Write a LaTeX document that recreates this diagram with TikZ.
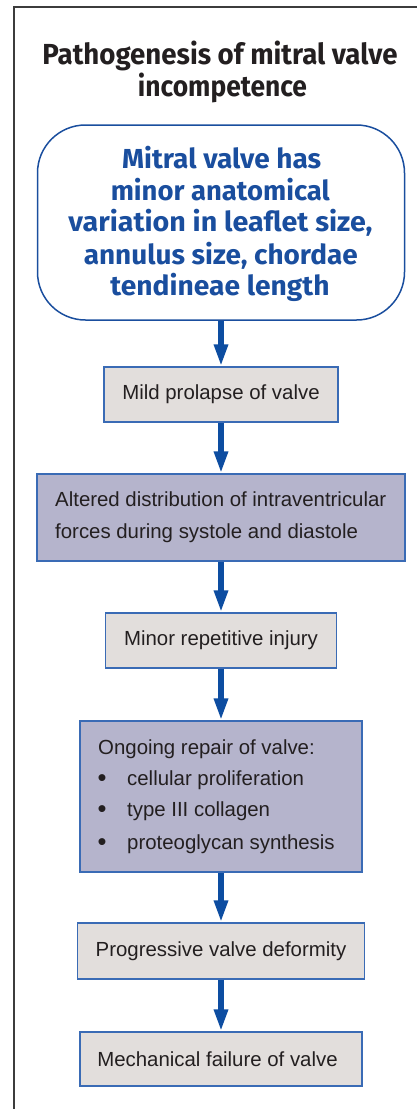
\documentclass[tikz,border=0pt]{standalone}
\usepackage{fontspec}
\usepackage{graphicx}
\setmainfont{Liberation Sans}
\newfontfamily\headfont{Fira Sans}
\usetikzlibrary{arrows.meta}
\definecolor{framegray}{HTML}{3C3C3C}
\definecolor{textdark}{HTML}{231F20}
\definecolor{navy}{HTML}{1A4E9E}
\definecolor{arrowblue}{HTML}{0D4DA1}
\definecolor{boxline}{HTML}{3A6BB5}
\definecolor{greyfill}{HTML}{E2DEDC}
\definecolor{lilac}{HTML}{B5B4CC}
\newcommand\fitw[2]{\resizebox{#1pt}{\height}{#2}}
\newcommand\bulletmark{\raisebox{-1.2pt}{\scalebox{1.25}{•}}}
\begin{document}
\begin{tikzpicture}[x=1pt,y=-1pt,
  greybox/.style={draw=boxline,line width=1.1pt,fill=greyfill,inner sep=0pt,text=textdark,font=\fontsize{20.4}{24}\selectfont},
  lilacbox/.style={draw=boxline,line width=1.1pt,fill=lilac,inner sep=0pt},
  bodytext/.style={inner sep=0pt,anchor=base west,text=textdark,font=\fontsize{20.4}{24}\selectfont},
  headline/.style={inner sep=0pt,anchor=base,text=textdark,font=\headfont\bfseries\fontsize{29}{32}\selectfont},
  topline/.style={inner sep=0pt,anchor=base,text=navy,font=\headfont\bfseries\fontsize{27.5}{32}\selectfont},
  flow/.style={arrowblue,line width=5.5pt,-{Triangle[width=13pt,length=22pt]}},
]
\path[use as bounding box] (0,0) rectangle (417,1109);
\draw[framegray,line width=1.4pt] (417,7) -- (14,7) -- (14,1109);

% title
\node[headline] (title1) at (220,64) {\fitw{355}{Pathogenesis of mitral valve}};
\node[headline] (title2) at (222.5,96.7) {\fitw{169}{incompetence}};

% top rounded box
\node[draw=navy,line width=1.5pt,rounded corners=48pt,minimum width=367pt,minimum height=195pt,inner sep=0pt] (top) at (221,222.5) {};
\node[topline] (t1) at (221.7,168.3) {\fitw{199}{Mitral valve has}};
\node[topline] (t2) at (220.3,200.7) {\fitw{219}{minor anatomical}};
\node[topline] (t3) at (220.5,231.7) {\fitw{304}{variation in leaflet size,}};
\node[topline] (t4) at (220.8,264) {\fitw{274}{annulus size, chordae}};
\node[topline] (t5) at (220,295) {\fitw{219}{tendineae length}};

% boxes
\node[greybox,minimum width=234pt,minimum height=55pt] (b1) at (221,394.5) {Mild prolapse of valve};

\node[lilacbox,minimum width=368pt,minimum height=87pt] (b2) at (221,517.5) {};
\node[bodytext] (b2a) at (55,506.7) {Altered distribution of intraventricular};
\node[bodytext] (b2b) at (55,538) {forces during systole and diastole};

\node[greybox,minimum width=231pt,minimum height=55pt] (b3) at (221,640.5) {Minor repetitive injury};

\node[lilacbox,minimum width=282pt,minimum height=151pt] (b4) at (221,796.5) {};
\node[bodytext] (b4a) at (98,754) {Ongoing repair of valve:};
\node[bodytext] (b4d1) at (97.5,785) {\bulletmark};
\node[bodytext] (b4b) at (127,785) {cellular proliferation};
\node[bodytext] (b4d2) at (97.5,816.7) {\bulletmark};
\node[bodytext] (b4c) at (127,816.7) {type III collagen};
\node[bodytext] (b4d3) at (97.5,849) {\bulletmark};
\node[bodytext] (b4e) at (127,849) {proteoglycan synthesis};

\node[greybox,minimum width=287pt,minimum height=56pt] (b5) at (221,951) {Progressive valve deformity};
\node[greybox,minimum width=282pt,minimum height=54pt] (b6) at (221,1059) {Mechanical failure of valve\hspace*{7pt}};

% connectors
\draw[flow] (top.south) -- (b1.north);
\draw[flow] (b1.south) -- (b2.north);
\draw[flow] (b2.south) -- (b3.north);
\draw[flow] (b3.south) -- (b4.north);
\draw[flow] (b4.south) -- (b5.north);
\draw[flow] (b5.south) -- (b6.north);
\end{tikzpicture}
\end{document}
